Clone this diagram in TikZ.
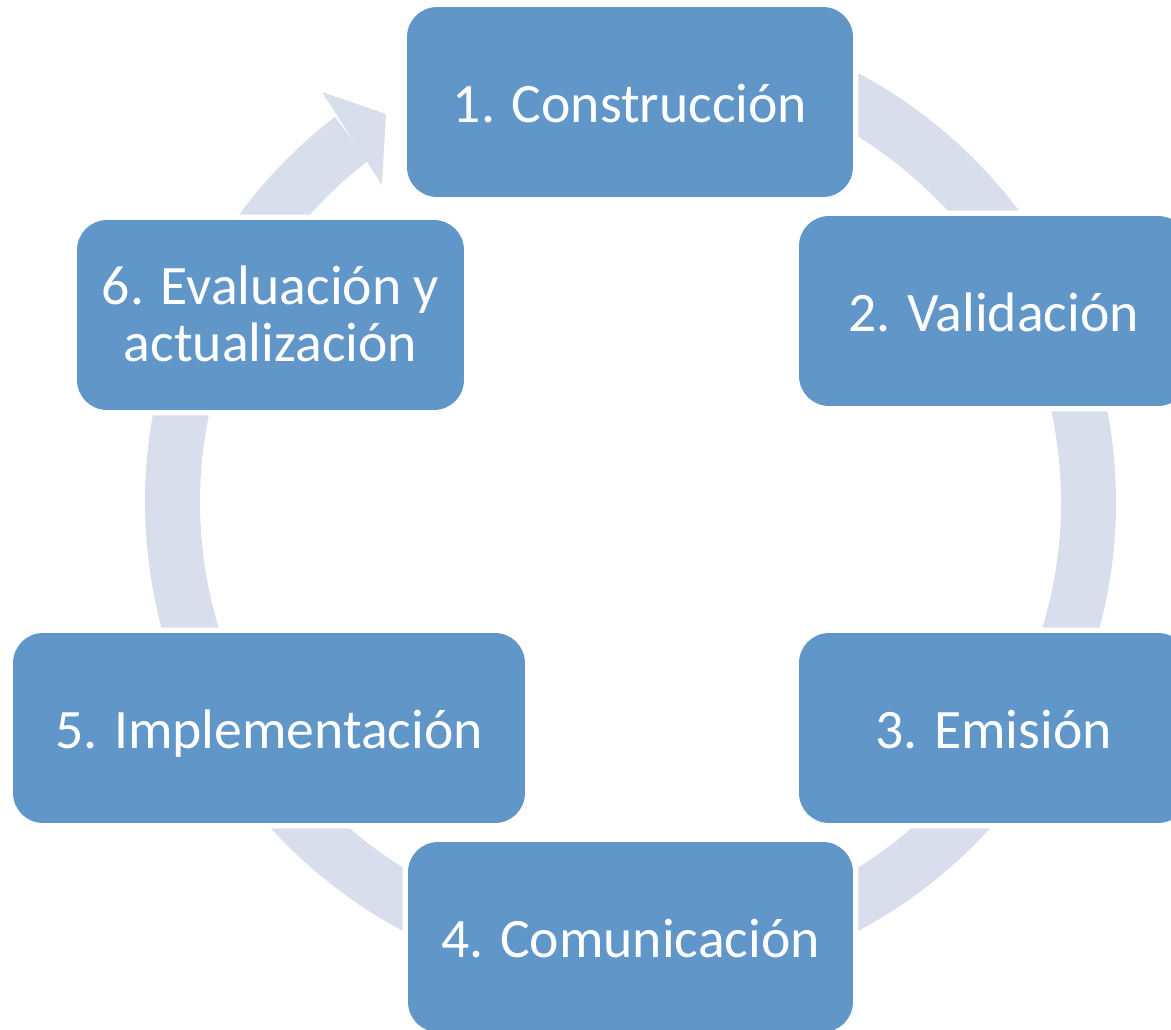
\documentclass[tikz,border=0pt]{standalone}
\usepackage{fontspec}
\setmainfont{Carlito}
\definecolor{stageblue}{RGB}{97,150,201}
\definecolor{ringlilac}{RGB}{217,222,237}

\begin{document}
\begin{tikzpicture}[x=0.02cm,y=-0.02cm,
    stage/.style={rectangle,rounded corners=0.6cm,fill=stageblue,text=white,
      preaction={draw=white,line width=0.22cm},
      minimum height=3.8cm,inner sep=0pt,align=center,
      font=\fontsize{31.7}{32.5}\selectfont,
      text height=23.8pt,text depth=0pt},
    twoline/.style={text height=53.3pt,text depth=0pt}]

          \useasboundingbox (0,0) rectangle (1171,1029);
          \coordinate (O) at (630.5,502);

          % ring behind the stages
          \draw[ringlilac,line width=1.1cm]
                (O) ++(-95:458) arc[start angle=-95,end angle=232.5,radius=458];
          \fill[ringlilac] (322,92) -- (386,114) -- (382,185) -- cycle;

          \node[stage,minimum width=8.92cm]  (cons)  at (630,102)    {1. Construcción};
          \node[stage,minimum width=7.78cm]  (valid) at (993.5,311)  {2. Validación};
          \node[stage,minimum width=7.78cm]  (emis)  at (993.5,728)  {3. Emisión};
          \node[stage,minimum width=8.9cm]   (comun) at (630.5,937)  {4. Comunicación};
          \node[stage,minimum width=10.24cm] (impl)  at (269,728)    {5. Implementación};
          \node[stage,twoline,minimum width=7.74cm] (eval) at (270.5,315)
                {6. Evaluación y\\actualización};
        \end{tikzpicture}
\end{document}
